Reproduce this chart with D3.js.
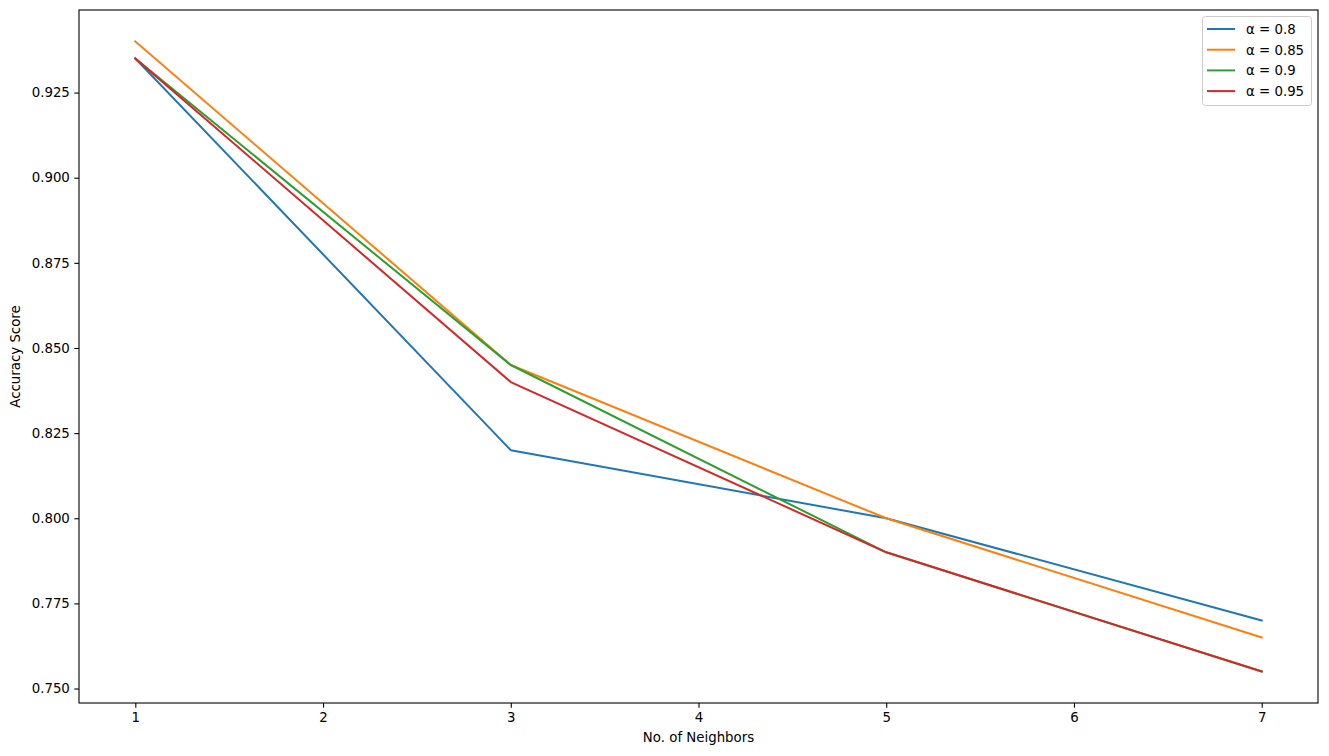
<!DOCTYPE html>
<html><head><meta charset="utf-8">
<script src="https://cdn.jsdelivr.net/npm/d3@7"></script>
<style>body{margin:0;background:#fff;} text{font-family:"DejaVu Sans",sans-serif;}</style>
</head><body>
<svg id="chart" width="1329" height="756"></svg>
<script>
const neighbors = [1, 3, 5, 7];
const seriesNames = ["α = 0.8", "α = 0.85", "α = 0.9", "α = 0.95"];
const acc08 = [0.935, 0.82, 0.80, 0.77];
const acc085 = [0.94, 0.845, 0.80, 0.765];
const acc09 = [0.935, 0.845, 0.79, 0.755];
const acc095 = [0.935, 0.84, 0.79, 0.755];
const colors = ["#1f77b4", "#ff7f0e", "#2ca02c", "#d62728"];
const xTicks = [1, 2, 3, 4, 5, 6, 7];
const yTicks = [0.750, 0.775, 0.800, 0.825, 0.850, 0.875, 0.900, 0.925];

const allSeries = [acc08, acc085, acc09, acc095];
const svg = d3.select("#chart");
const L = 79, R = 1318, T = 10, B = 703;
const x = d3.scaleLinear().domain([0.7, 7.3]).range([L, R]);
const y = d3.scaleLinear().domain([0.74575, 0.94925]).range([B, T]);

const xAxis = svg.append("g").attr("transform", `translate(0,${B})`)
  .call(d3.axisBottom(x).tickValues(xTicks).tickFormat(d3.format("d")).tickSizeOuter(0).tickSize(4.67).tickPadding(4.5));
const yAxis = svg.append("g").attr("transform", `translate(${L},0)`)
  .call(d3.axisLeft(y).tickValues(yTicks).tickFormat(d3.format(".3f")).tickSizeOuter(0).tickSize(4.67).tickPadding(4.5));
[xAxis, yAxis].forEach(a => {
  a.select(".domain").remove();
  a.selectAll("text").style("font-size", "13.33px").attr("fill", "#000").style("font-family", "DejaVu Sans");
  a.selectAll("line").attr("stroke", "#000").attr("stroke-width", 1.1);
});

const line = d3.line().x((d, i) => x(neighbors[i])).y(d => y(d));
allSeries.forEach((s, k) => {
  svg.append("path").datum(s).attr("d", line).attr("fill", "none")
    .attr("stroke", colors[k]).attr("stroke-width", 2).attr("stroke-linecap", "square").attr("stroke-linejoin", "round");
});

svg.append("rect").attr("x", L).attr("y", T).attr("width", R - L).attr("height", B - T)
  .attr("fill", "none").attr("stroke", "#000").attr("stroke-width", 1.1);

svg.append("text").attr("x", (L + R) / 2).attr("y", 742).attr("text-anchor", "middle")
  .style("font-size", "13.33px").text("No. of Neighbors");
svg.append("text").attr("transform", `translate(20,${(T + B) / 2}) rotate(-90)`).attr("text-anchor", "middle")
  .style("font-size", "13.33px").text("Accuracy Score");

const lg = svg.append("g");
lg.append("rect").attr("x", 1202.5).attr("y", 16.5).attr("width", 109).attr("height", 89).attr("rx", 3)
  .attr("fill", "#fff").attr("fill-opacity", 0.8).attr("stroke", "#ccc").attr("stroke-width", 1);
seriesNames.forEach((n, k) => {
  const yy = 29 + k * 20.7;
  lg.append("line").attr("x1", 1207).attr("x2", 1235).attr("y1", yy).attr("y2", yy)
    .attr("stroke", colors[k]).attr("stroke-width", 2);
  lg.append("text").attr("x", 1246).attr("y", yy + 4.8).style("font-size", "13.33px").text(n);
});
</script>
</body></html>
